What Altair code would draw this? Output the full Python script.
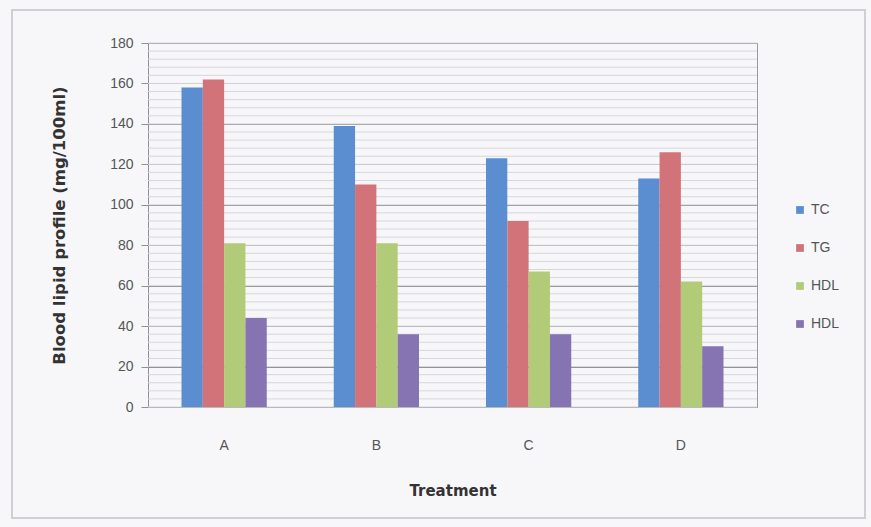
import altair as alt
import pandas as pd

treatments = ["A", "B", "C", "D"]
series_keys = ["TC", "TG", "HDL", "HDL2"]
series_labels = ["TC", "TG", "HDL", "HDL"]
tc = [158, 139, 123, 113]
tg = [162, 110, 92, 126]
hdl = [81, 81, 67, 62]
hdl2 = [44, 36, 36, 30]
colors = ["#5B8ED0", "#D2737A", "#B2CB78", "#8573B2"]
y_ticks = [0, 20, 40, 60, 80, 100, 120, 140, 160, 180]
minor_ticks = [v for v in range(0, 181, 4)]

rows = []
for key, vals in zip(series_keys, [tc, tg, hdl, hdl2]):
    for t, v in zip(treatments, vals):
        rows.append({"Treatment": t, "Series": key, "Value": v})
df = pd.DataFrame(rows)
minor_df = pd.DataFrame({"v": minor_ticks})

FONT = "Liberation Sans"
TFONT = "DejaVu Sans"
W, H = 609, 364

yscale = alt.Scale(domain=[0, 180], nice=False)

frame = alt.Chart(pd.DataFrame({"a": [0]})).mark_rect(
    fill="#f7f7fa", fillOpacity=0, stroke="#cfcfd4", strokeWidth=2, clip=False
).encode(x=alt.value(-136), x2=alt.value(W + 108), y=alt.value(-33), y2=alt.value(H + 111))

minor = alt.Chart(minor_df).mark_rule(color="#d6d6dc", strokeWidth=1).encode(
    y=alt.Y("v:Q", scale=yscale, title="Blood lipid profile (mg/100ml)")
)

bars = alt.Chart(df).mark_bar(opacity=1).encode(
    x=alt.X("Treatment:N", sort=treatments,
            scale=alt.Scale(paddingInner=0.44, paddingOuter=0.22),
            axis=alt.Axis(title="Treatment", labelAngle=0, ticks=False, domain=True,
                          domainColor="#9a9aa0", labelPadding=31, labelFontSize=14,
                          labelColor="#555555", titleFontSize=15, titleFontWeight="bold",
                          titleColor="#333333", titlePadding=31, labelFont=FONT, titleFont=TFONT)),
    xOffset=alt.XOffset("Series:N", sort=series_keys),
    y=alt.Y("Value:Q", scale=yscale,
            axis=alt.Axis(values=y_ticks, title="Blood lipid profile (mg/100ml)",
                          grid=True, gridColor="#8f8f96", gridWidth=1.2,
                          tickSize=7, tickColor="#8f8f96", domainColor="#8f8f96",
                          labelPadding=8, labelFontSize=14, labelColor="#555555",
                          titleFontSize=16.5, titleFontWeight="bold", titleColor="#333333",
                          titlePadding=42, labelFont=FONT, titleFont=TFONT)),
    color=alt.Color("Series:N", sort=series_keys,
                    scale=alt.Scale(domain=series_keys, range=colors),
                    legend=alt.Legend(title=None, orient="none", legendX=W + 36, legendY=160,
                                      symbolType="square", symbolSize=60, symbolStrokeWidth=0,
                                      rowPadding=24, labelFontSize=14, labelColor="#555555",
                                      labelFont=FONT,
                                      labelExpr="datum.label == 'HDL2' ? 'HDL' : datum.label")),
)

chart = alt.layer(frame, minor, bars).properties(
    width=W, height=H,
    padding={"left": 148, "top": 43, "right": 871 - 148 - W, "bottom": 527 - 43 - H},
    autosize=alt.AutoSizeParams(type="none"),
    background="#f7f7fa",
).configure_view(stroke="#9a9aa0", strokeWidth=1)

chart.save("out.html", embed_options={"renderer": "svg", "actions": False})
